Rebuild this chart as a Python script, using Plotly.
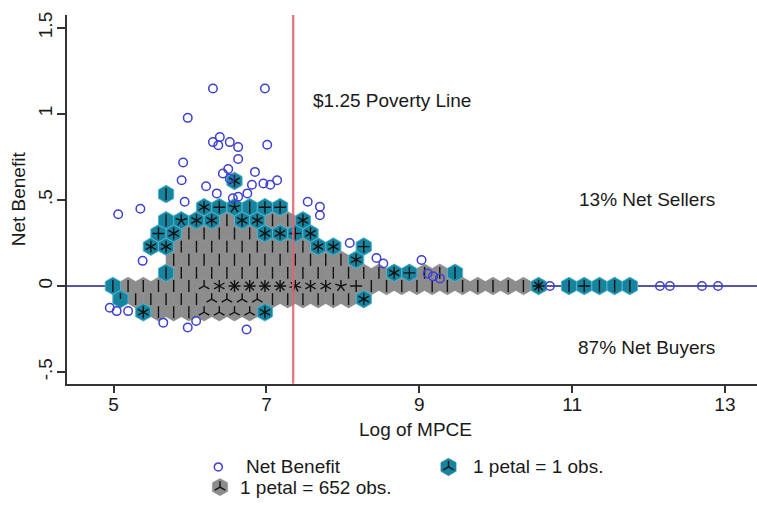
import numpy as np
import plotly.graph_objects as go

# ---------------------------------------------------------------------------
# Individual households drawn as open circles (log MPCE, net benefit)
obs_log_mpce = [6.30, 6.98, 5.97, 6.30, 6.39, 6.52, 6.63, 7.01, 6.37, 6.63,
                5.91, 5.89, 6.21, 6.35, 6.50, 6.43, 6.85, 6.81, 6.96, 7.14,
                7.05, 6.56, 6.75, 6.63, 6.52, 5.93, 5.06, 5.35, 7.54, 7.70,
                7.70, 8.09, 8.44, 8.53, 9.03, 9.11, 9.18, 9.27, 10.71, 12.15,
                12.28, 12.70, 12.91, 4.95, 5.04, 5.19, 5.65, 5.97, 6.08, 6.74,
                5.38]
obs_net_benefit = [1.148, 1.148, 0.977, 0.836, 0.865, 0.836, 0.807, 0.821, 0.818, 0.738,
                   0.717, 0.614, 0.579, 0.538, 0.680, 0.654, 0.663, 0.588, 0.596, 0.614,
                   0.588, 0.510, 0.538, 0.518, 0.624, 0.489, 0.417, 0.449, 0.489, 0.460,
                   0.411, 0.250, 0.163, 0.131, 0.151, 0.073, 0.056, 0.044, 0.0, 0.0,
                   0.0, 0.0, 0.0, -0.126, -0.146, -0.146, -0.213, -0.241, -0.204, -0.253,
                   0.146]

# Hexagonal bin grid of the sunflower plot
BIN_X0 = 4.99      # log MPCE of bin column 0 on even rows
BIN_DX = 0.199     # bin width (log MPCE)
BIN_DY = 0.0763    # row spacing (net benefit)

# Dark flowers (1 petal = 652 obs.): runs of adjacent bins on one grid row
dark_row = [-2, -1, 0, 1, 1, 2, 3, 4, 5, 5]
dark_first_col = [3, 1, 1, 4, 20, 4, 4, 5, 7, 10]
dark_petals = [
    [2, 2, 2, 3, 3, 3, 3],
    [2, 2, 2, 2, 2, 3, 3, 3, 3, 2, 2, 2, 2, 2, 2],
    [2, 2, 2, 2, 2, 3, 6, 8, 8, 8, 8, 7, 6, 6, 5, 4,
     2, 2, 2, 2, 2, 2, 2, 2, 2, 2, 2],
    [2, 2, 2, 2, 2, 2, 2, 2, 2, 2, 2, 2, 2, 2],
    [2, 2],
    [2, 2, 2, 2, 2, 2, 2, 2, 2, 2, 2, 2],
    [2, 2, 2, 2, 2, 2, 2, 2, 2],
    [2, 2, 2, 2, 2],
    [2],
    [2, 2],
]

# Light flowers (1 petal = 1 obs.)
light_row = [0, -1, -2, -2, -1, 0, 0, 0, 0, 0, 0,
             1, 1, 1, 1, 2,
             3, 3, 3, 3, 3,
             4, 4, 4, 4, 4, 4,
             5, 5, 5, 5, 5, 5, 5,
             6, 6, 6, 6, 6, 6,
             7, 8]
light_col = [0, 0, 2, 10, 16, 28, 30, 31, 32, 33, 34,
             3, 18, 19, 22, 16,
             2, 3, 13, 14, 16,
             3, 4, 10, 11, 12, 13,
             3, 4, 5, 6, 8, 9, 12,
             6, 7, 8, 9, 10, 11,
             3, 8]
light_petals = [2, 1, 6, 6, 6, 8, 2, 4, 2, 2, 2,
                2, 6, 4, 2, 6,
                6, 6, 6, 6, 4,
                4, 6, 6, 6, 4, 6,
                2, 5, 6, 6, 6, 6, 6,
                6, 4, 5, 2, 4, 4,
                2, 6]

POVERTY_LINE = 7.35

# ---------------------------------------------------------------------------
W, H = 757, 508
X_DOMAIN = [67 / W, 1.0]
Y_DOMAIN = [125 / H, 496 / H]
X_RANGE = [4.39, 13.42]
Y_RANGE = [-0.568, 1.575]
X_PX = (X_DOMAIN[1] - X_DOMAIN[0]) * W / (X_RANGE[1] - X_RANGE[0])
Y_PX = (Y_DOMAIN[1] - Y_DOMAIN[0]) * H / (Y_RANGE[1] - Y_RANGE[0])

HEX_SIZE = 17.6
PETAL_PX = 6.0
FONT = "Liberation Sans, Arial, sans-serif"
TEXT = "#1a1a1a"
GRAY = "#8c8c8c"
TEAL = "#17849f"
BLUE = "#3f3fd1"


def bin_center(row, col):
    x = BIN_X0 + BIN_DX * (col + 0.5 * (row % 2))
    return x, row * BIN_DY


dark_x, dark_y, dark_n = [], [], []
for r, c0, petals in zip(dark_row, dark_first_col, dark_petals):
    for i, n in enumerate(petals):
        x, y = bin_center(r, c0 + i)
        dark_x.append(x)
        dark_y.append(y)
        dark_n.append(n)

light_x, light_y = [], []
for r, c in zip(light_row, light_col):
    x, y = bin_center(r, c)
    light_x.append(x)
    light_y.append(y)


def petal_lines(xs, ys, counts):
    lx, ly = [], []
    for x, y, n in zip(xs, ys, counts):
        for j in range(n):
            a = np.pi / 2 + 2 * np.pi * j / n
            lx += [x, x + PETAL_PX * np.cos(a) / X_PX, None]
            ly += [y, y + PETAL_PX * np.sin(a) / Y_PX, None]
    return lx, ly


fig = go.Figure()

fig.add_trace(go.Scatter(
    x=dark_x, y=dark_y, mode="markers", hoverinfo="skip",
    marker=dict(symbol="hexagon", size=HEX_SIZE, color=GRAY,
                line=dict(color=GRAY, width=0.6)),
))
fig.add_trace(go.Scatter(
    x=light_x, y=light_y, mode="markers", hoverinfo="skip",
    marker=dict(symbol="hexagon", size=HEX_SIZE, color=TEAL,
                line=dict(color="#4fb4cc", width=1)),
))
px_, py_ = petal_lines(dark_x + light_x, dark_y + light_y, dark_n + light_petals)
fig.add_trace(go.Scatter(
    x=px_, y=py_, mode="lines", hoverinfo="skip",
    line=dict(color="#111111", width=1.4),
))
fig.add_trace(go.Scatter(
    x=obs_log_mpce, y=obs_net_benefit, mode="markers", name="Net Benefit",
    marker=dict(symbol="circle-open", size=8.5, color=BLUE, line=dict(width=1.5)),
))

# zero line and poverty line
fig.add_shape(type="line", xref="x domain", yref="y", x0=0, x1=1, y0=0, y1=0,
              line=dict(color="#1c1c8c", width=1.5), layer="below")
fig.add_shape(type="line", xref="x", yref="y domain", x0=POVERTY_LINE, x1=POVERTY_LINE,
              y0=0, y1=1, line=dict(color="#e06478", width=2.4), opacity=0.85,
              layer="above")


def ann(text, x, y, xref="x", yref="y", xanchor="center", **kw):
    fig.add_annotation(text=text, x=x, y=y, xref=xref, yref=yref, showarrow=False,
                       xanchor=xanchor, yanchor="middle",
                       font=dict(family=FONT, size=19, color=TEXT), **kw)


ann("$1.25 Poverty Line", 7.58, 1.077, xanchor="left")
ann("13% Net Sellers", 11.98, 0.50)
ann("87% Net Buyers", 11.98, -0.358)
ann("Log of MPCE", 415 / W, 1 - 429 / H, xref="paper", yref="paper")
ann("Net Benefit", 18 / W, 1 - 197.5 / H, xref="paper", yref="paper", textangle=-90)


# legend, drawn in pixel positions on the paper
def P(px, py):
    return px / W, 1 - py / H


def legend_flower(cx, cy, color, n):
    r = HEX_SIZE / 2
    pts = [(cx + 0.866 * r, cy - r / 2), (cx + 0.866 * r, cy + r / 2), (cx, cy + r),
           (cx - 0.866 * r, cy + r / 2), (cx - 0.866 * r, cy - r / 2), (cx, cy - r)]
    path = "M " + " L ".join("%.5f,%.5f" % P(a, b) for a, b in pts) + " Z"
    fig.add_shape(type="path", xref="paper", yref="paper", path=path,
                  fillcolor=color, line=dict(color=color, width=0.5))
    for j in range(n):
        a = np.pi / 2 + 2 * np.pi * j / n
        x0, y0 = P(cx, cy)
        x1, y1 = P(cx + PETAL_PX * np.cos(a), cy - PETAL_PX * np.sin(a))
        fig.add_shape(type="line", xref="paper", yref="paper", x0=x0, y0=y0,
                      x1=x1, y1=y1, line=dict(color="#111111", width=1.4))


cx0, cy0 = P(214.3, 462.7)
cx1, cy1 = P(222.3, 470.7)
fig.add_shape(type="circle", xref="paper", yref="paper", x0=cx0, y0=cy0, x1=cx1, y1=cy1,
              line=dict(color=BLUE, width=1.5))
legend_flower(448.5, 466.7, TEAL, 3)
legend_flower(220, 487, GRAY, 3)
lx, ly = P(244, 466.7)
ann("Net Benefit", lx, ly, xref="paper", yref="paper", xanchor="left")
lx, ly = P(471, 466.7)
ann("1 petal = 1 obs.", lx, ly, xref="paper", yref="paper", xanchor="left")
lx, ly = P(238, 487)
ann("1 petal = 652 obs.", lx, ly, xref="paper", yref="paper", xanchor="left")

axis_common = dict(showgrid=False, zeroline=False, showline=True, linecolor="#333333",
                   linewidth=1.5, ticks="outside", ticklen=8, tickwidth=1.5,
                   tickcolor="#333333",
                   tickfont=dict(family=FONT, size=19, color=TEXT))
fig.update_layout(
    width=W, height=H, margin=dict(l=0, r=0, t=0, b=0),
    paper_bgcolor="white", plot_bgcolor="white", showlegend=False,
    xaxis=dict(domain=X_DOMAIN, range=X_RANGE, tickvals=[5, 7, 9, 11, 13],
               ticklabelstandoff=-5, **axis_common),
    yaxis=dict(domain=Y_DOMAIN, range=Y_RANGE, tickvals=[-0.5, 0, 0.5, 1, 1.5],
               ticktext=["-.5", "0", ".5", "1", "1.5"], tickangle=-90,
               ticklabelstandoff=-2, **axis_common),
)

fig.write_html("out.html")
